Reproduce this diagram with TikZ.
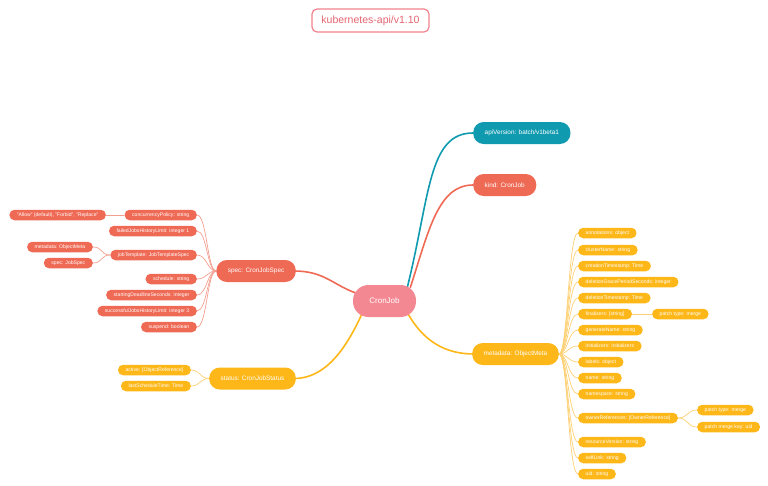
\documentclass[tikz,border=0pt]{standalone}
\usepackage{fontspec}
\setmainfont{Liberation Sans}
\usepackage{tikz}
\usetikzlibrary{backgrounds}
\definecolor{coral}{RGB}{239,106,85}
\definecolor{coralline}{RGB}{244,158,144}
\definecolor{amber}{RGB}{253,183,24}
\definecolor{amberline}{RGB}{253,208,115}
\definecolor{teal}{RGB}{16,154,175}
\definecolor{cronpink}{RGB}{243,136,146}
\definecolor{titlered}{RGB}{228,100,112}
\definecolor{titleline}{RGB}{241,130,142}

\begin{document}
\begin{tikzpicture}[x=1pt, y=-1pt,
    topic/.style={rectangle, rounded corners=10.5pt, minimum height=22pt, inner xsep=11.5pt, inner ysep=0pt, text=white, font=\fontsize{6.4}{7}\selectfont},
    leaf/.style={rectangle, rounded corners=5pt, minimum height=10.5pt, inner xsep=7.5pt, inner ysep=0pt, text=white, font=\fontsize{5.1}{6}\selectfont},
    main/.style={line width=1.6pt},
    sub/.style={line width=0.7pt}]
  \useasboundingbox (0,0) rectangle (768,485);

  % title
  \node[draw=titleline, line width=1.2pt, rounded corners=5pt, minimum width=117pt, minimum height=23pt, text=titlered, font=\fontsize{10.5}{12}\selectfont] (title) at (370.5,20.5) {kubernetes-api/v1.10};

  % root
  \node[fill=cronpink, rounded corners=15.5pt, minimum width=63pt, minimum height=32pt, text=white, font=\fontsize{8}{9}\selectfont] (cron) at (384.5,301) {CronJob};

  % first level
  \node[topic, fill=teal, anchor=west] (api) at (473,133) {apiVersion: batch/v1beta1};
  \node[topic, fill=coral, anchor=west] (kind) at (473,185) {kind: CronJob};
  \node[topic, fill=amber, anchor=west] (meta) at (472,354) {metadata: ObjectMeta};
  \node[topic, fill=coral, anchor=east] (spec) at (296,271) {spec: CronJobSpec};
  \node[topic, fill=amber, anchor=east] (status) at (296,378.5) {status: CronJobStatus};

  % spec
  \node[leaf, fill=coral, anchor=east] (cp) at (197,215) {concurrencyPolicy: string};
  \node[leaf, fill=coral, anchor=east] (fj) at (197,231) {failedJobsHistoryLimit: integer 1};
  \node[leaf, fill=coral, anchor=east] (jt) at (197,255) {jobTemplate: JobTemplateSpec};
  \node[leaf, fill=coral, anchor=east] (sc) at (197,279) {schedule: string};
  \node[leaf, fill=coral, anchor=east] (sd) at (197,295) {startingDeadlineSeconds: integer};
  \node[leaf, fill=coral, anchor=east] (sj) at (197,311) {successfulJobsHistoryLimit: integer 3};
  \node[leaf, fill=coral, anchor=east] (su) at (197,327) {suspend: boolean};
  \node[leaf, fill=coral, anchor=east] (cpv) at (106,215) {"Allow" (default), "Forbid", "Replace"};
  \node[leaf, fill=coral, anchor=east] (jtm) at (93,247) {metadata: ObjectMeta};
  \node[leaf, fill=coral, anchor=east] (jts) at (93,263) {spec: JobSpec};

  % status
  \node[leaf, fill=amber, anchor=east] (sa) at (191,370) {active: [ObjectReference]};
  \node[leaf, fill=amber, anchor=east] (sl) at (191,386) {lastScheduleTime: Time};

  % metadata
  \foreach \y/\txt [count=\i] in {233/annotations: object, 250/clusterName: string,
      266/creationTimestamp: Time, 282/deletionGracePeriodSeconds: integer,
      298/deletionTimestamp: Time, 314/finalizers: [string], 330/generateName: string,
      346/initializers: Initializers, 362/labels: object, 378/name: string,
      394/namespace: string, 418/ownerReferences: [OwnerReference],
      442/resourceVersion: string, 458/selfLink: string, 474/uid: string}
    \node[leaf, fill=amber, anchor=west] (m\i) at (578,\y) {\txt};
  \node[leaf, fill=amber, anchor=west] (fpt) at (652,314) {patch type: merge};
  \node[leaf, fill=amber, anchor=west] (opt) at (697,410) {patch type: merge};
  \node[leaf, fill=amber, anchor=west] (opk) at (697,427) {patch merge key: uid};

  \begin{pgfonlayer}{background}
    \draw[main, teal] ([xshift=-9pt,yshift=-3pt]cron.north east) .. controls +(76:95pt) and +(180:45pt) .. (api.west);
    \draw[main, coral] ([xshift=-6pt,yshift=-3pt]cron.north east) .. controls +(72:60pt) and +(180:35pt) .. (kind.west);
    \draw[main, amber] ([xshift=-8pt,yshift=3pt]cron.south east) .. controls +(-60:30pt) and +(180:30pt) .. ([xshift=2pt]meta.west);
    \draw[main, coral] ([yshift=8pt,xshift=3pt]cron.west) .. controls +(160:25pt) and +(0:30pt) .. ([xshift=-2pt]spec.east);
    \draw[main, amber] ([xshift=9pt,yshift=3pt]cron.south west) .. controls +(-115:30pt) and +(0:35pt) .. ([xshift=-2pt]status.east);

    \foreach \n in {cp,fj,jt,sc,sd,sj,su}
      \draw[sub, coralline] (spec.west) .. controls +(180:9pt) and +(0:10pt) .. (\n.east);
    \draw[sub, coralline] (cp.west) -- (cpv.east);
    \draw[sub, coralline] (jt.west) .. controls +(180:10pt) and +(0:10pt) .. (jtm.east);
    \draw[sub, coralline] (jt.west) .. controls +(180:10pt) and +(0:10pt) .. (jts.east);

    \draw[sub, amberline] (status.west) .. controls +(180:9pt) and +(0:9pt) .. (sa.east);
    \draw[sub, amberline] (status.west) .. controls +(180:9pt) and +(0:9pt) .. (sl.east);

    \foreach \i in {1,...,15}
      \draw[sub, amberline] (meta.east) .. controls +(0:9pt) and +(180:10pt) .. (m\i.west);
    \draw[sub, amberline] (m6.east) -- (fpt.west);
    \draw[sub, amberline] (m12.east) .. controls +(0:10pt) and +(180:10pt) .. (opt.west);
    \draw[sub, amberline] (m12.east) .. controls +(0:10pt) and +(180:10pt) .. (opk.west);
  \end{pgfonlayer}
\end{tikzpicture}
\end{document}
